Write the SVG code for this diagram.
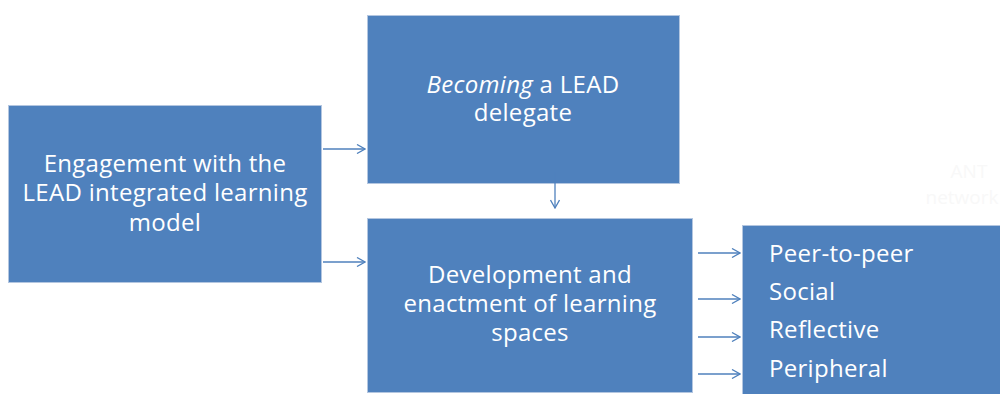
<svg xmlns="http://www.w3.org/2000/svg" width="1000" height="394" viewBox="0 0 1000 394">
<defs>
<style>
.box{fill:#4f81bd;stroke:#b3c6e0;stroke-width:1}
.t{font-family:"Open Sans","Liberation Sans",sans-serif;font-size:24px;letter-spacing:0.3px;fill:#ffffff}
.c{text-anchor:middle}
.conn{stroke:#4f81bd;stroke-width:1.3;fill:none;marker-end:url(#ah)}
.faint{font-family:"Open Sans","Liberation Sans",sans-serif;font-size:19px;fill:#f8f8f8;text-anchor:middle}
</style>
<marker id="ah" viewBox="0 0 10 10" refX="9" refY="5" markerWidth="10" markerHeight="10" markerUnits="userSpaceOnUse" orient="auto">
<path d="M1,0.5 L9,5 L1,9.5" fill="none" stroke="#4f81bd" stroke-width="1.3"/>
</marker>
</defs>
<rect width="1000" height="394" fill="#ffffff"/>
<g id="ghost">
<text class="faint" x="969" y="178">ANT</text>
<text class="faint" x="962" y="204">network</text>
</g>
<g id="n1">
<rect class="box" x="8.5" y="105.5" width="313" height="177"/>
<text class="t c" x="165" y="172">Engagement with the</text>
<text class="t c" x="165" y="201">LEAD integrated learning</text>
<text class="t c" x="165" y="231">model</text>
</g>
<g id="n2">
<rect class="box" x="367.5" y="15.5" width="312" height="168"/>
<text class="t c" x="523" y="93"><tspan font-style="italic">Becoming</tspan> a LEAD</text>
<text class="t c" x="523" y="121">delegate</text>
</g>
<g id="n3">
<rect class="box" x="367.5" y="218.5" width="325" height="174"/>
<text class="t c" x="530" y="283">Development and</text>
<text class="t c" x="530" y="312">enactment of learning</text>
<text class="t c" x="530" y="341">spaces</text>
</g>
<g id="n4">
<rect class="box" x="742.5" y="225.5" width="260" height="172"/>
<text class="t" x="769" y="262">Peer-to-peer</text>
<text class="t" x="769" y="300">Social</text>
<text class="t" x="769" y="338">Reflective</text>
<text class="t" x="769" y="377">Peripheral</text>
</g>
<g id="connectors">
<line class="conn" x1="323" y1="149" x2="365" y2="149"/>
<line class="conn" x1="323" y1="262" x2="365" y2="262"/>
<line class="conn" x1="555" y1="172" x2="555" y2="208"/>
<line class="conn" x1="698" y1="253" x2="740" y2="253"/>
<line class="conn" x1="698" y1="299" x2="740" y2="299"/>
<line class="conn" x1="698" y1="337" x2="740" y2="337"/>
<line class="conn" x1="698" y1="374" x2="740" y2="374"/>
</g>
</svg>
